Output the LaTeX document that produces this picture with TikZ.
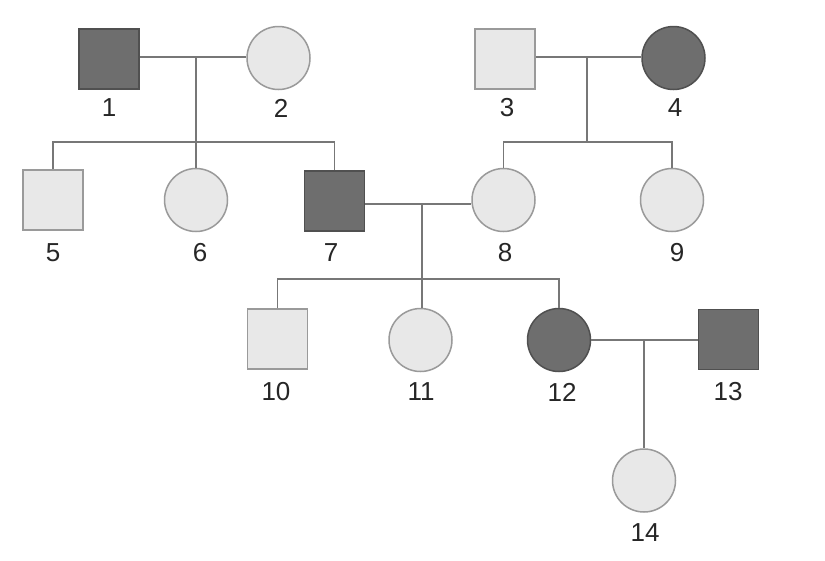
\documentclass[tikz,border=0pt]{standalone}
\usepackage{fontspec}
\setmainfont{Liberation Sans}
\definecolor{darkfill}{HTML}{6E6E6E}
\definecolor{darkline}{HTML}{505050}
\definecolor{lightfill}{HTML}{E8E8E8}
\definecolor{lightline}{HTML}{9A9A9A}
\definecolor{conn}{HTML}{777777}
\begin{document}
\begin{tikzpicture}[x=1pt,y=-1pt,
  male/.style={rectangle,minimum size=60pt,inner sep=0pt,line width=1.5pt},
  female/.style={circle,minimum size=63pt,inner sep=0pt,line width=1.5pt},
  aff/.style={fill=darkfill,draw=darkline},
  unaff/.style={fill=lightfill,draw=lightline},
  lbl/.style={font=\fontsize{26}{26}\selectfont,text=black!85,inner sep=0pt},
  link/.style={draw=conn,line width=1.6pt}]
\useasboundingbox (0,0) rectangle (825,560);
\fill[white] (0,0) rectangle (825,560);
% generation I
\node[male,aff] (n1) at (109,59) {};
\node[female,unaff] (n2) at (278.5,58) {};
\node[male,unaff] (n3) at (505,59) {};
\node[female,aff] (n4) at (673.5,58) {};
% generation II
\node[male,unaff] (n5) at (53,200) {};
\node[female,unaff] (n6) at (196,200) {};
\node[male,aff] (n7) at (334.5,201) {};
\node[female,unaff] (n8) at (503.5,200) {};
\node[female,unaff] (n9) at (672,200) {};
% generation III
\node[male,unaff] (n10) at (277.5,339) {};
\node[female,unaff] (n11) at (420.5,340) {};
\node[female,aff] (n12) at (559,340) {};
\node[male,aff] (n13) at (728.5,339.5) {};
% generation IV
\node[female,unaff] (n14) at (644,480.5) {};
% labels
\node[lbl] (l1) at (109,108) {1};
\node[lbl] (l2) at (281,108) {2};
\node[lbl] (l3) at (507,108) {3};
\node[lbl] (l4) at (675,108) {4};
\node[lbl] (l5) at (53,253) {5};
\node[lbl] (l6) at (200,253) {6};
\node[lbl] (l7) at (331,253) {7};
\node[lbl] (l8) at (505,253) {8};
\node[lbl] (l9) at (677,253) {9};
\node[lbl] (l10) at (276,392) {10};
\node[lbl] (l11) at (421,392) {11};
\node[lbl] (l12) at (562,392) {12};
\node[lbl] (l13) at (728,392) {13};
\node[lbl] (l14) at (645,533) {14};
% junction coordinates
\coordinate (m12) at (196,57);
\coordinate (s12) at (196,142);
\coordinate (m34) at (587,57);
\coordinate (s34) at (587,142);
\coordinate (m78) at (422,204);
\coordinate (s78) at (422,279);
\coordinate (m1213) at (644,340);
% connectors
\draw[link] (n1.east |- m12) -- (n2.west |- m12);
\draw[link] (m12) -- (s12);
\draw[link] (n5.north) |- (s12) -| (n7.north);
\draw[link] (s12) -- (s12 |- n6.north);
\draw[link] (n3.east |- m34) -- (n4.west |- m34);
\draw[link] (m34) -- (s34);
\draw[link] (n8.north) |- (s34) -| (n9.north);
\draw[link] (n7.east |- m78) -- (n8.west |- m78);
\draw[link] (m78) -- (s78);
\draw[link] (n10.north) |- (s78) -| (n12.north);
\draw[link] (s78) -- (s78 |- n11.north);
\draw[link] (n12.east) -- (n13.west |- n12.east);
\draw[link] (m1213) -- (m1213 |- n14.north);
\end{tikzpicture}
\end{document}
